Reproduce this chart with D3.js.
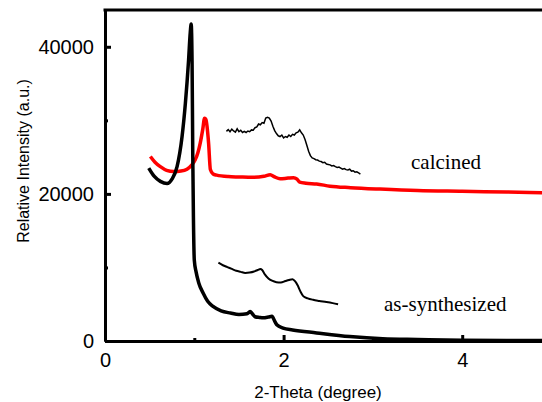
<!DOCTYPE html>
<meta charset="utf-8">
<title>XRD</title>
<style>

body {
  margin: 0;
  background: #fff;
}

.axis text {
  font: 20px "Liberation Sans", Arial, sans-serif;
  fill: #000;
}

.axis path,
.axis line {
  stroke: #000;
  stroke-width: 3;
}

.title {
  font-family: "Liberation Sans", Arial, sans-serif;
  fill: #000;
}

.label {
  font: 21px "Liberation Serif", "Times New Roman", serif;
  fill: #000;
}

</style>
<svg width="542" height="402"></svg>
<script src="https://cdn.jsdelivr.net/npm/d3@7/dist/d3.min.js"></script>
<script>

// as-synthesized, full pattern
var asX = [0.49, 0.55, 0.62, 0.695, 0.75, 0.807, 0.863, 0.90, 0.936, 0.955, 0.965, 0.975, 0.983, 0.99, 1.0,
  1.02, 1.05, 1.1, 1.15, 1.21, 1.3, 1.405, 1.5, 1.59, 1.625, 1.65, 1.68, 1.73, 1.77, 1.83, 1.87, 1.9, 1.924, 1.994,
  2.1, 2.37, 2.74, 3.11, 3.5, 4.0, 4.5, 5.0];
var asY = [23500, 22400, 21700, 21400, 22000, 23700, 27800, 32300, 38200, 42000, 43100, 38000, 25000, 17000, 11000,
  9400, 7900, 6500, 5400, 4700, 4100, 3800, 3600, 3700, 4000, 3700, 3300, 3200, 3150, 3250, 3350, 2700, 2200, 1750,
  1500, 1100, 600, 300, 200, 100, 70, 50];

// calcined, full pattern
var calX = [0.508, 0.56, 0.62, 0.69, 0.77, 0.85, 0.918, 0.97, 1.01, 1.04, 1.067, 1.095, 1.115, 1.13, 1.16, 1.18,
  1.21, 1.25, 1.38, 1.5, 1.65, 1.78, 1.85, 1.9, 1.96, 2.05, 2.11, 2.15, 2.18, 2.25, 2.37, 2.52, 2.75,
  3.08, 3.5, 4.0, 4.5, 5.0];
var calY = [25080, 24300, 23700, 23200, 23030, 23100, 23360, 23900, 24630, 25600, 26940, 28800, 30300, 30100, 26900, 23300,
  22700, 22550, 22350, 22300, 22250, 22400, 22600, 22300, 22050, 22150, 22200, 22000, 21600, 21450, 21350, 21050, 20850,
  20650, 20450, 20350, 20250, 20150];

// magnified high angle part, calcined
var calZoomX = [1.36, 1.38, 1.40, 1.42, 1.44, 1.46, 1.48, 1.50, 1.52, 1.54, 1.56, 1.58, 1.60, 1.62, 1.64, 1.66,
  1.68, 1.70, 1.72, 1.74, 1.76, 1.78, 1.80, 1.82, 1.84, 1.86, 1.88, 1.90, 1.92, 1.94, 1.96, 1.98, 2.00,
  2.02, 2.04, 2.06, 2.08, 2.10, 2.12, 2.14, 2.16, 2.18, 2.20, 2.22, 2.24, 2.26, 2.28, 2.30, 2.32, 2.34,
  2.36, 2.38, 2.40, 2.42, 2.44, 2.46, 2.48, 2.50, 2.52, 2.54, 2.56, 2.58, 2.60, 2.62, 2.64, 2.66, 2.68,
  2.70, 2.72, 2.74, 2.76, 2.78, 2.80, 2.82, 2.84, 2.86];
var calZoomY = [28500, 28750, 28450, 28800, 28550, 28400, 28850, 28450, 28650, 28350, 28500, 28350, 28550, 28450, 28700, 28650,
  29000, 29100, 29500, 29400, 29700, 29600, 30300, 30400, 30300, 29900, 29200, 28600, 28200, 27900, 27800, 28000, 27600,
  27800, 27700, 28000, 27800, 28100, 28000, 28300, 28400, 28700, 28300, 28000, 27400, 26600, 25800, 25200, 24900, 24800,
  24650, 24600, 24450, 24400, 24250, 24300, 24050, 24000, 23950, 23800, 23850, 23700, 23600, 23650, 23500, 23350, 23450,
  23300, 23250, 23350, 23100, 23150, 22950, 23000, 22850, 22700];

// magnified high angle part, as-synthesized
var asZoomX = [1.27, 1.32, 1.37, 1.42, 1.47, 1.52, 1.57, 1.62, 1.67, 1.71, 1.74, 1.76, 1.79, 1.83, 1.87, 1.92,
  1.97, 2.02, 2.06, 2.10, 2.13, 2.16, 2.19, 2.22, 2.27, 2.33, 2.40, 2.48, 2.55, 2.61];
var asZoomY = [10650, 10300, 10050, 9800, 9550, 9400, 9250, 9300, 9450, 9650, 9800, 9650, 9050, 8500, 8200, 8000,
  7950, 8150, 8300, 8400, 8100, 7500, 6700, 6100, 5800, 5600, 5450, 5300, 5150, 5000];

var xMajor = [0, 2, 4],
    xMinor = [1, 3],
    yMajor = [0, 20000, 40000],
    yMinor = [10000, 30000];

var svg = d3.select("svg");

var x = d3.scaleLinear().domain([0, 5]).range([105, 551.5]);
var y = d3.scaleLinear().domain([0, 45000]).range([341, 10]);

function zip(xs, ys) {
  return xs.map(function (v, i) { return [v, ys[i]]; });
}

var line = d3.line()
    .x(function (d) { return x(d[0]); })
    .y(function (d) { return y(d[1]); })
    .curve(d3.curveMonotoneX);

var lineRough = d3.line()
    .x(function (d) { return x(d[0]); })
    .y(function (d) { return y(d[1]); });

// top frame line
svg.append("line")
    .attr("x1", x(0) - 1.5).attr("x2", x(5))
    .attr("y1", y(45000)).attr("y2", y(45000))
    .attr("stroke", "#000").attr("stroke-width", 3);

// curves
svg.append("path")
    .datum(zip(calX, calY))
    .attr("d", line)
    .attr("fill", "none")
    .attr("stroke", "#f00")
    .attr("stroke-width", 3.5);

svg.append("path")
    .datum(zip(asX, asY))
    .attr("d", line)
    .attr("fill", "none")
    .attr("stroke", "#000")
    .attr("stroke-width", 3.5);

svg.append("path")
    .datum(zip(calZoomX, calZoomY))
    .attr("d", lineRough)
    .attr("fill", "none")
    .attr("stroke", "#000")
    .attr("stroke-width", 1.5);

svg.append("path")
    .datum(zip(asZoomX, asZoomY))
    .attr("d", line)
    .attr("fill", "none")
    .attr("stroke", "#000")
    .attr("stroke-width", 2);

// axes, ticks pointing inward
svg.append("g")
    .attr("class", "axis")
    .attr("transform", "translate(0," + y(0) + ")")
    .call(d3.axisBottom(x).tickValues(xMinor).tickSize(-3).tickSizeOuter(0).tickFormat(""));

svg.append("g")
    .attr("class", "axis")
    .attr("transform", "translate(0," + y(0) + ")")
    .call(d3.axisBottom(x).tickValues(xMajor).tickSize(-6).tickSizeOuter(0).tickPadding(12).tickFormat(d3.format("d")));

svg.append("g")
    .attr("class", "axis")
    .attr("transform", "translate(" + x(0) + ",0)")
    .call(d3.axisLeft(y).tickValues(yMinor).tickSize(-3).tickSizeOuter(0).tickFormat(""));

svg.append("g")
    .attr("class", "axis")
    .attr("transform", "translate(" + x(0) + ",0)")
    .call(d3.axisLeft(y).tickValues(yMajor).tickSize(-6).tickSizeOuter(0).tickPadding(11).tickFormat(d3.format("d")));

// titles
svg.append("text")
    .attr("class", "title")
    .attr("x", 318)
    .attr("y", 398)
    .attr("text-anchor", "middle")
    .style("font-size", "17px")
    .text("2-Theta (degree)");

svg.append("text")
    .attr("class", "title")
    .attr("transform", "translate(29,161) rotate(-90)")
    .attr("text-anchor", "middle")
    .style("font-size", "16px")
    .text("Relative Intensity (a.u.)");

svg.append("text")
    .attr("class", "label")
    .attr("x", 411)
    .attr("y", 169)
    .text("calcined");

svg.append("text")
    .attr("class", "label")
    .attr("x", 384)
    .attr("y", 311)
    .text("as-synthesized");

</script>
